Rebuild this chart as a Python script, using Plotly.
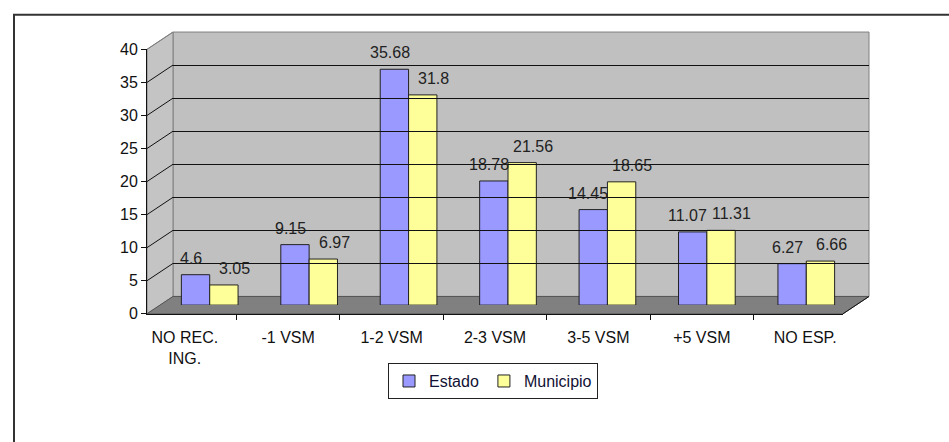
import plotly.graph_objects as go

categories = ["NO REC.<br>ING.", "-1 VSM", "1-2 VSM", "2-3 VSM", "3-5 VSM", "+5 VSM", "NO ESP."]
estado = [4.6, 9.15, 35.68, 18.78, 14.45, 11.07, 6.27]
municipio = [3.05, 6.97, 31.8, 21.56, 18.65, 11.31, 6.66]
y_ticks = [0, 5, 10, 15, 20, 25, 30, 35, 40]

W, H = 949, 442
FONT = "Arial, Liberation Sans, sans-serif"
FS = 16

def px(x):
    return x / W

def py(y):
    return 1 - y / H

# geometry (pixels)
FX0, FX1, FY0, FY40 = 147, 843, 318, 43      # front plane
DX, DY = 26, -18                            # depth offset (back wall)
MX, MY = DX / 2, DY / 2                     # middle (bars)

fig = go.Figure()

fig.add_trace(go.Bar(
    x=categories, y=estado, name="Estado",
    marker=dict(color="#9999FF", line=dict(color="#222222", width=1)),
    xaxis="x2", yaxis="y2",
))
fig.add_trace(go.Bar(
    x=categories, y=municipio, name="Municipio",
    marker=dict(color="#FFFF99", line=dict(color="#222222", width=1)),
    xaxis="x2", yaxis="y2",
))
# invisible helpers to anchor the front axes and back wall grid
fig.add_trace(go.Scatter(x=categories, y=[0] * len(categories), mode="markers",
                         marker=dict(size=1, opacity=0), showlegend=False,
                         hoverinfo="skip", xaxis="x", yaxis="y"))
fig.add_trace(go.Scatter(x=categories, y=[0] * len(categories), mode="markers",
                         marker=dict(size=1, opacity=0), showlegend=False,
                         hoverinfo="skip", xaxis="x3", yaxis="y3"))

# data labels (placed from the data through the bar axes)
annotations = []
for cat, ve, vm in zip(categories, estado, municipio):
    annotations.append(dict(x=cat, y=ve, xref="x2", yref="y2", text=f"{ve:g}", showarrow=False,
                            xanchor="center", yanchor="bottom", xshift=-19, yshift=6,
                            font=dict(size=FS, color="#222222", family=FONT)))
    annotations.append(dict(x=cat, y=vm, xref="x2", yref="y2", text=f"{vm:g}", showarrow=False,
                            xanchor="center", yanchor="bottom", xshift=25, yshift=6,
                            font=dict(size=FS, color="#222222", family=FONT)))

shapes = []
# back wall
shapes.append(dict(type="rect", xref="paper", yref="paper",
                   x0=px(FX0 + DX), x1=px(FX1 + DX), y0=py(FY0 + DY), y1=py(FY40 + DY),
                   fillcolor="#C0C0C0", line=dict(color="#808080", width=1), layer="below"))
# side wall
shapes.append(dict(type="path", xref="paper", yref="paper",
                   path=f"M {px(FX0)} {py(FY0)} L {px(FX0)} {py(FY40)} L {px(FX0+DX)} {py(FY40+DY)} L {px(FX0+DX)} {py(FY0+DY)} Z",
                   fillcolor="#C4C4C4", line=dict(color="#808080", width=1), layer="below"))
# floor
shapes.append(dict(type="path", xref="paper", yref="paper",
                   path=f"M {px(FX0)} {py(FY0)} L {px(FX1)} {py(FY0)} L {px(FX1+DX)} {py(FY0+DY)} L {px(FX0+DX)} {py(FY0+DY)} Z",
                   fillcolor="#808080", line=dict(color="#555555", width=1), layer="below"))
# side wall diagonals at each tick
for v in y_ticks[1:]:
    yf = FY0 - (FY0 - FY40) * v / 40
    shapes.append(dict(type="line", xref="paper", yref="paper",
                       x0=px(FX0), y0=py(yf), x1=px(FX0 + DX), y1=py(yf + DY),
                       line=dict(color="#111111" if v < 40 else "#808080", width=1), layer="below"))
# floor right edge
shapes.append(dict(type="line", xref="paper", yref="paper",
                   x0=px(FX1), y0=py(FY0), x1=px(FX1 + DX), y1=py(FY0 + DY),
                   line=dict(color="#111111", width=1)))
# outer frame
shapes.append(dict(type="rect", xref="paper", yref="paper",
                   x0=px(14), x1=1.02, y0=-0.05, y1=py(7),
                   line=dict(color="#333333", width=2), fillcolor="rgba(0,0,0,0)"))

fig.update_layout(
    width=W, height=H,
    margin=dict(l=0, r=0, t=0, b=0),
    paper_bgcolor="white", plot_bgcolor="rgba(0,0,0,0)",
    font=dict(family=FONT, size=FS, color="#111111"),
    barmode="group", bargap=0.43, bargroupgap=0,
    showlegend=True,
    legend=dict(orientation="h", x=px(493), y=py(388), xanchor="center", yanchor="middle",
                bordercolor="#222222", borderwidth=1, bgcolor="white",
                font=dict(size=FS, color="#111133"), itemwidth=30, tracegroupgap=0),
    shapes=shapes,
    annotations=annotations,
    xaxis=dict(domain=[px(FX0), px(FX1)], anchor="y", type="category",
               tickson="boundaries", ticks="outside", ticklen=5, tickcolor="#111111",
               showline=True, linecolor="#111111", linewidth=1, showgrid=False,
               ticklabelstandoff=9,
               tickfont=dict(size=FS, color="#111111"), fixedrange=True),
    yaxis=dict(domain=[py(FY0), py(FY40)], anchor="x", range=[0, 40], tickvals=y_ticks,
               ticks="outside", ticklen=5, tickcolor="#111111",
               showline=True, linecolor="#111111", linewidth=1, showgrid=False, zeroline=False,
               tickfont=dict(size=FS, color="#111111")),
    xaxis2=dict(domain=[px(FX0 + MX), px(FX1 + MX)], anchor="y2", type="category",
                visible=False, showgrid=False),
    yaxis2=dict(domain=[py(FY0 + MY), py(FY40 + MY)], anchor="x2", range=[0, 40],
                visible=False, showgrid=False, zeroline=False),
    xaxis3=dict(domain=[px(FX0 + DX), px(FX1 + DX)], anchor="y3", type="category",
                showticklabels=False, showgrid=False, showline=False, ticks=""),
    yaxis3=dict(domain=[py(FY0 + DY), py(FY40 + DY)], anchor="x3", range=[0, 40],
                tickvals=y_ticks, showticklabels=False, ticks="", showgrid=True,
                gridcolor="#111111", gridwidth=1, zeroline=False, showline=False),
)

fig.write_html("out.html", config={"displayModeBar": False},
               post_script="document.body.style.margin='0';document.body.style.padding='0';")
